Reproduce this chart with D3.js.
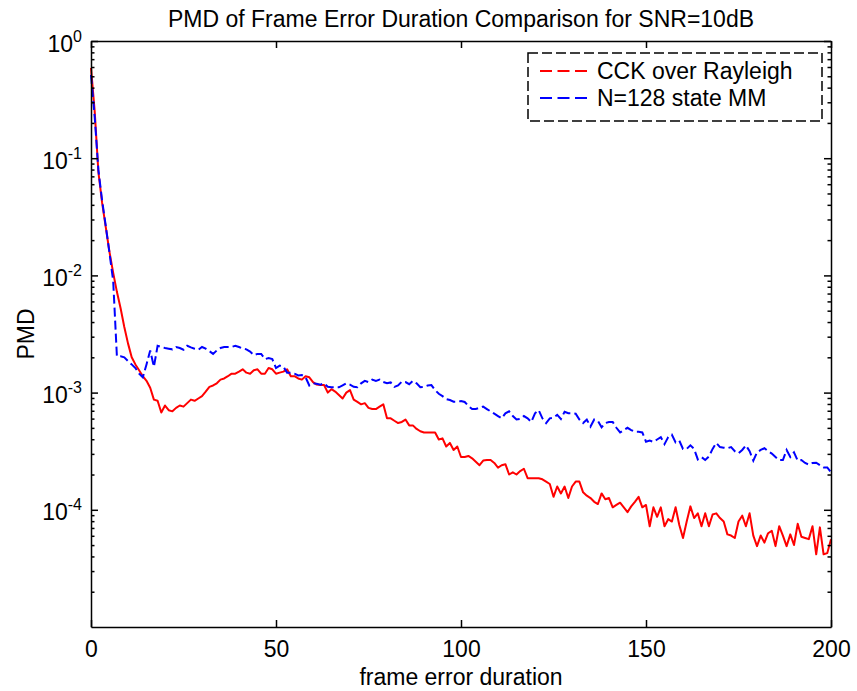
<!DOCTYPE html>
<html>
<head>
<meta charset="utf-8">
<script src="https://cdn.jsdelivr.net/npm/d3@7"></script>
<style>
  html, body { margin: 0; padding: 0; background: #fff; }
  svg { display: block; font-family: "Liberation Sans", Arial, sans-serif; }
</style>
</head>
<body>
<svg id="chart" width="857" height="691"></svg>
<script>
// frame error duration (x values)
const durations = d3.range(0, 201);

// PMD, CCK over Rayleigh
const cckRayleigh = [
  0.589, 0.251, 0.0759, 0.0417, 0.0257, 0.0158, 0.0105, 7.24e-3, 5.25e-3, 3.63e-3,
  2.63e-3, 2.00e-3, 1.74e-3, 1.55e-3, 1.38e-3, 1.26e-3, 1.10e-3, 8.71e-4, 8.51e-4, 6.76e-4,
  7.76e-4, 7.08e-4, 6.92e-4, 7.41e-4, 7.76e-4, 7.59e-4, 8.13e-4, 8.71e-4, 8.51e-4, 8.91e-4,
  9.33e-4, 1.02e-3, 1.12e-3, 1.15e-3, 1.20e-3, 1.29e-3, 1.32e-3, 1.38e-3, 1.45e-3, 1.45e-3,
  1.51e-3, 1.58e-3, 1.48e-3, 1.45e-3, 1.55e-3, 1.58e-3, 1.45e-3, 1.45e-3, 1.62e-3, 1.58e-3,
  1.45e-3, 1.48e-3, 1.51e-3, 1.58e-3, 1.38e-3, 1.38e-3, 1.32e-3, 1.29e-3, 1.38e-3, 1.35e-3,
  1.23e-3, 1.17e-3, 1.16e-3, 1.16e-3, 1.00e-3, 1.07e-3, 1.02e-3, 9.55e-4, 8.91e-4, 1.00e-3,
  1.05e-3, 8.71e-4, 8.32e-4, 7.94e-4, 8.13e-4, 7.41e-4, 7.24e-4, 7.24e-4, 7.59e-4, 7.94e-4,
  6.03e-4, 6.03e-4, 5.75e-4, 5.50e-4, 5.62e-4, 5.89e-4, 5.25e-4, 5.25e-4, 4.90e-4, 4.68e-4,
  4.57e-4, 4.57e-4, 4.57e-4, 4.57e-4, 3.98e-4, 4.07e-4, 3.47e-4, 3.72e-4, 3.24e-4, 3.47e-4,
  2.82e-4, 2.82e-4, 2.88e-4, 2.75e-4, 2.57e-4, 2.40e-4, 2.63e-4, 2.66e-4, 2.66e-4, 2.51e-4,
  2.29e-4, 2.40e-4, 2.45e-4, 2.00e-4, 2.09e-4, 2.00e-4, 2.14e-4, 2.24e-4, 1.86e-4, 1.86e-4,
  1.86e-4, 1.86e-4, 1.82e-4, 1.74e-4, 1.66e-4, 1.29e-4, 1.58e-4, 1.38e-4, 1.58e-4, 1.26e-4,
  1.58e-4, 1.74e-4, 1.74e-4, 1.41e-4, 1.32e-4, 1.26e-4, 1.17e-4, 1.12e-4, 1.38e-4, 1.23e-4,
  1.26e-4, 1.05e-4, 1.10e-4, 1.15e-4, 1.05e-4, 9.55e-5, 1.07e-4, 1.17e-4, 1.29e-4, 1.05e-4,
  1.10e-4, 7.24e-5, 1.05e-4, 8.71e-5, 1.05e-4, 7.24e-5, 8.32e-5, 7.94e-5, 1.05e-4, 7.41e-5,
  5.75e-5, 7.94e-5, 1.07e-4, 8.51e-5, 9.33e-5, 7.24e-5, 9.33e-5, 7.24e-5, 9.12e-5, 9.33e-5,
  8.51e-5, 7.94e-5, 6.17e-5, 6.03e-5, 5.75e-5, 7.94e-5, 8.91e-5, 7.24e-5, 9.33e-5, 6.03e-5,
  4.90e-5, 6.03e-5, 5.25e-5, 6.31e-5, 6.61e-5, 4.90e-5, 7.24e-5, 6.03e-5, 4.90e-5, 6.17e-5,
  5.01e-5, 7.59e-5, 5.89e-5, 5.75e-5, 5.62e-5, 7.24e-5, 4.17e-5, 7.08e-5, 4.17e-5, 4.27e-5,
  5.62e-5
];

// PMD, N=128 state MM
const mm128 = [
  0.513, 0.224, 0.0794, 0.0437, 0.0263, 0.0155, 8.91e-3, 2.04e-3, 2.04e-3, 2.00e-3,
  1.86e-3, 1.74e-3, 1.62e-3, 1.45e-3, 1.35e-3, 1.74e-3, 2.29e-3, 1.66e-3, 2.51e-3, 2.45e-3,
  2.40e-3, 2.37e-3, 2.34e-3, 2.45e-3, 2.40e-3, 2.32e-3, 2.51e-3, 2.43e-3, 2.37e-3, 2.32e-3,
  2.45e-3, 2.37e-3, 2.26e-3, 2.14e-3, 2.29e-3, 2.40e-3, 2.45e-3, 2.45e-3, 2.45e-3, 2.51e-3,
  2.45e-3, 2.37e-3, 2.34e-3, 2.24e-3, 2.09e-3, 2.14e-3, 2.14e-3, 1.93e-3, 1.97e-3, 1.93e-3,
  1.62e-3, 1.70e-3, 1.66e-3, 1.48e-3, 1.48e-3, 1.45e-3, 1.40e-3, 1.41e-3, 1.35e-3, 1.15e-3,
  1.20e-3, 1.19e-3, 1.17e-3, 1.20e-3, 1.12e-3, 1.11e-3, 1.11e-3, 1.11e-3, 1.15e-3, 1.20e-3,
  1.17e-3, 1.12e-3, 1.11e-3, 1.20e-3, 1.26e-3, 1.23e-3, 1.29e-3, 1.26e-3, 1.29e-3, 1.23e-3,
  1.20e-3, 1.22e-3, 1.12e-3, 1.15e-3, 1.24e-3, 1.23e-3, 1.18e-3, 1.26e-3, 1.20e-3, 1.11e-3,
  1.12e-3, 1.15e-3, 1.16e-3, 1.05e-3, 9.77e-4, 9.33e-4, 8.81e-4, 8.65e-4, 8.36e-4, 8.36e-4,
  8.47e-4, 8.32e-4, 7.69e-4, 7.24e-4, 7.24e-4, 7.41e-4, 7.59e-4, 7.24e-4, 6.92e-4, 6.61e-4,
  6.31e-4, 6.03e-4, 6.65e-4, 6.92e-4, 6.31e-4, 5.89e-4, 5.96e-4, 6.31e-4, 6.03e-4, 5.62e-4,
  6.65e-4, 7.08e-4, 6.03e-4, 5.50e-4, 6.03e-4, 6.10e-4, 6.46e-4, 5.96e-4, 6.87e-4, 6.68e-4,
  6.68e-4, 6.61e-4, 5.89e-4, 5.50e-4, 5.89e-4, 5.13e-4, 5.89e-4, 5.75e-4, 5.06e-4, 5.50e-4,
  5.62e-4, 5.62e-4, 5.01e-4, 4.57e-4, 4.79e-4, 5.01e-4, 4.79e-4, 4.63e-4, 4.63e-4, 4.57e-4,
  3.81e-4, 3.89e-4, 3.80e-4, 3.98e-4, 4.17e-4, 3.63e-4, 4.17e-4, 4.37e-4, 3.76e-4, 3.89e-4,
  3.31e-4, 3.31e-4, 3.55e-4, 3.31e-4, 2.69e-4, 2.82e-4, 2.66e-4, 2.85e-4, 3.31e-4, 3.72e-4,
  3.43e-4, 3.39e-4, 3.35e-4, 3.43e-4, 3.16e-4, 3.03e-4, 3.24e-4, 3.55e-4, 3.16e-4, 2.63e-4,
  3.09e-4, 3.24e-4, 3.35e-4, 3.16e-4, 3.02e-4, 2.82e-4, 2.66e-4, 2.66e-4, 3.24e-4, 2.82e-4,
  3.09e-4, 2.63e-4, 2.66e-4, 2.51e-4, 2.43e-4, 2.51e-4, 2.52e-4, 2.40e-4, 2.30e-4, 2.30e-4,
  2.09e-4
];

const xTicks = [0, 50, 100, 150, 200];
const yExponents = [0, -1, -2, -3, -4];
const seriesNames = ['CCK over Rayleigh', 'N=128 state MM'];
const seriesColors = ['#ff0000', '#0000ff'];

const margin = { left: 91, right: 26, top: 41, bottom: 64 };
const width = 857, height = 691;
const FONT = 23;
const DASH = '9,4';

const svg = d3.select('#chart');

const x = d3.scaleLinear()
    .domain([0, 200])
    .range([margin.left, width - margin.right]);
const y = d3.scaleLog()
    .domain([1e-5, 1])
    .range([height - margin.bottom, margin.top]);

// minor ticks 2..9 in every decade
const minorTicks = [];
for (let e = -5; e < 0; e++) {
    for (let k = 2; k <= 9; k++) minorTicks.push(k * Math.pow(10, e));
}
const majorTicks = yExponents.map(e => Math.pow(10, e));

function styleAxis(g) {
    g.selectAll('path.domain').attr('stroke', '#000').attr('stroke-width', 1.5);
    g.selectAll('.tick line').attr('stroke', '#000').attr('stroke-width', 1.5);
    g.selectAll('.tick text')
        .attr('fill', '#000')
        .style('font-family', '"Liberation Sans", Arial, sans-serif')
        .style('font-size', FONT + 'px');
}

// lines first, axes drawn on top of them
const lineGen = d3.line()
    .x((d, i) => x(durations[i]))
    .y(d => y(d));

svg.append('path')
    .datum(cckRayleigh)
    .attr('fill', 'none')
    .attr('stroke', seriesColors[0])
    .attr('stroke-width', 2)
    .attr('stroke-linejoin', 'round')
    .attr('d', lineGen);

svg.append('path')
    .datum(mm128)
    .attr('fill', 'none')
    .attr('stroke', seriesColors[1])
    .attr('stroke-width', 2)
    .attr('stroke-dasharray', DASH)
    .attr('d', lineGen);

// bottom axis with labels
svg.append('g')
    .attr('transform', `translate(0,${height - margin.bottom})`)
    .call(d3.axisBottom(x).tickValues(xTicks).tickSize(-7).tickSizeOuter(0).tickPadding(14))
    .call(styleAxis);

// top axis, ticks only
svg.append('g')
    .attr('transform', `translate(0,${margin.top})`)
    .call(d3.axisTop(x).tickValues(xTicks).tickSize(-7).tickSizeOuter(0).tickFormat(''))
    .call(styleAxis);

// left axis: majors with 10^n labels
const leftAxis = svg.append('g')
    .attr('transform', `translate(${margin.left},0)`)
    .call(d3.axisLeft(y).tickValues(majorTicks).tickSize(-7).tickSizeOuter(0)
        .tickPadding(9).tickFormat(() => '10'))
    .call(styleAxis);

leftAxis.selectAll('.tick text')
    .attr('dy', '0.44em')
    .append('tspan')
    .attr('dy', -10)
    .style('font-size', '16px')
    .text((d, i) => yExponents[i]);

svg.append('g')
    .attr('transform', `translate(${margin.left},0)`)
    .call(d3.axisLeft(y).tickValues(minorTicks).tickSize(-3.5).tickSizeOuter(0).tickFormat(''))
    .call(styleAxis)
    .select('path.domain').remove();

// right axis, ticks only
svg.append('g')
    .attr('transform', `translate(${width - margin.right},0)`)
    .call(d3.axisRight(y).tickValues(majorTicks).tickSize(-7).tickSizeOuter(0).tickFormat(''))
    .call(styleAxis);

svg.append('g')
    .attr('transform', `translate(${width - margin.right},0)`)
    .call(d3.axisRight(y).tickValues(minorTicks).tickSize(-3.5).tickSizeOuter(0).tickFormat(''))
    .call(styleAxis)
    .select('path.domain').remove();

// title and axis labels
svg.append('text')
    .attr('x', (margin.left + width - margin.right) / 2)
    .attr('y', 27)
    .attr('text-anchor', 'middle')
    .style('font-size', FONT + 'px')
    .text('PMD of Frame Error Duration Comparison for SNR=10dB');

svg.append('text')
    .attr('x', (margin.left + width - margin.right) / 2)
    .attr('y', 685)
    .attr('text-anchor', 'middle')
    .style('font-size', FONT + 'px')
    .text('frame error duration');

svg.append('text')
    .attr('transform', `translate(34,${(margin.top + height - margin.bottom) / 2}) rotate(-90)`)
    .attr('text-anchor', 'middle')
    .style('font-size', FONT + 'px')
    .text('PMD');

// legend
const legend = svg.append('g').attr('transform', 'translate(528,53)');
legend.append('rect')
    .attr('width', 294)
    .attr('height', 68)
    .attr('fill', '#fff')
    .attr('stroke', '#000')
    .attr('stroke-width', 1.5)
    .attr('stroke-dasharray', '10,4');

seriesNames.forEach((name, i) => {
    const row = legend.append('g').attr('transform', `translate(0,${18 + i * 27})`);
    row.append('line')
        .attr('x1', 12).attr('x2', 59)
        .attr('stroke', seriesColors[i])
        .attr('stroke-width', 2)
        .attr('stroke-dasharray', '12,5.5');
    row.append('text')
        .attr('x', 69)
        .attr('y', 8)
        .style('font-size', FONT + 'px')
        .text(name);
});
</script>
</body>
</html>
